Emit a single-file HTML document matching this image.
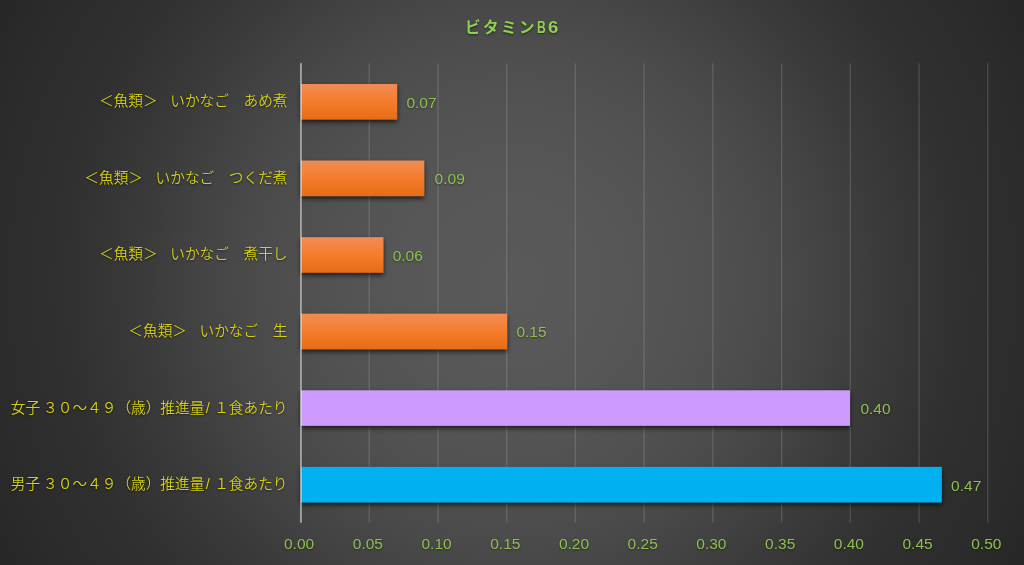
<!DOCTYPE html>
<html lang="ja">
<head>
<meta charset="utf-8">
<title>ビタミンB6</title>
<style>
html,body{margin:0;padding:0;}
body{width:1024px;height:565px;overflow:hidden;position:relative;
 background:#3f3f3f radial-gradient(circle 600px at 512px 282.5px,rgb(89,89,89) 0.0%,rgb(89,89,89) 2.5%,rgb(89,89,89) 5.0%,rgb(88,88,88) 7.5%,rgb(88,88,88) 10.0%,rgb(88,88,88) 12.5%,rgb(87,87,87) 15.0%,rgb(87,87,87) 17.5%,rgb(86,86,86) 20.0%,rgb(85,85,85) 22.5%,rgb(84,84,84) 25.0%,rgb(83,83,83) 27.5%,rgb(82,82,82) 30.0%,rgb(81,81,81) 32.5%,rgb(80,80,80) 35.0%,rgb(78,78,78) 37.5%,rgb(77,77,77) 40.0%,rgb(75,75,75) 42.5%,rgb(73,73,73) 45.0%,rgb(71,71,71) 47.5%,rgb(69,69,69) 50.0%,rgb(67,67,67) 52.5%,rgb(65,65,65) 55.0%,rgb(62,62,62) 57.5%,rgb(60,60,60) 60.0%,rgb(58,58,58) 62.5%,rgb(56,56,56) 65.0%,rgb(54,54,54) 67.5%,rgb(52,52,52) 70.0%,rgb(50,50,50) 72.5%,rgb(48,48,48) 75.0%,rgb(47,47,47) 77.5%,rgb(46,46,46) 80.0%,rgb(45,45,45) 82.5%,rgb(45,45,45) 85.0%,rgb(44,44,44) 87.5%,rgb(42,42,42) 90.0%,rgb(41,41,41) 92.5%,rgb(40,40,40) 95.0%,rgb(38,38,38) 97.5%,rgb(38,38,38) 100.0%);
 background:#3f3f3f radial-gradient(circle 600px at 512px 282.5px,color(srgb 0.3490 0.3490 0.3490) 0.0%,color(srgb 0.3486 0.3486 0.3486) 2.5%,color(srgb 0.3479 0.3479 0.3479) 5.0%,color(srgb 0.3470 0.3470 0.3470) 7.5%,color(srgb 0.3459 0.3459 0.3459) 10.0%,color(srgb 0.3445 0.3445 0.3445) 12.5%,color(srgb 0.3426 0.3426 0.3426) 15.0%,color(srgb 0.3404 0.3404 0.3404) 17.5%,color(srgb 0.3374 0.3374 0.3374) 20.0%,color(srgb 0.3338 0.3338 0.3338) 22.5%,color(srgb 0.3301 0.3301 0.3301) 25.0%,color(srgb 0.3263 0.3263 0.3263) 27.5%,color(srgb 0.3222 0.3222 0.3222) 30.0%,color(srgb 0.3177 0.3177 0.3177) 32.5%,color(srgb 0.3127 0.3127 0.3127) 35.0%,color(srgb 0.3067 0.3067 0.3067) 37.5%,color(srgb 0.3008 0.3008 0.3008) 40.0%,color(srgb 0.2947 0.2947 0.2947) 42.5%,color(srgb 0.2877 0.2877 0.2877) 45.0%,color(srgb 0.2793 0.2793 0.2793) 47.5%,color(srgb 0.2709 0.2709 0.2709) 50.0%,color(srgb 0.2625 0.2625 0.2625) 52.5%,color(srgb 0.2536 0.2536 0.2536) 55.0%,color(srgb 0.2443 0.2443 0.2443) 57.5%,color(srgb 0.2345 0.2345 0.2345) 60.0%,color(srgb 0.2262 0.2262 0.2262) 62.5%,color(srgb 0.2187 0.2187 0.2187) 65.0%,color(srgb 0.2112 0.2112 0.2112) 67.5%,color(srgb 0.2035 0.2035 0.2035) 70.0%,color(srgb 0.1961 0.1961 0.1961) 72.5%,color(srgb 0.1891 0.1891 0.1891) 75.0%,color(srgb 0.1847 0.1847 0.1847) 77.5%,color(srgb 0.1812 0.1812 0.1812) 80.0%,color(srgb 0.1781 0.1781 0.1781) 82.5%,color(srgb 0.1750 0.1750 0.1750) 85.0%,color(srgb 0.1710 0.1710 0.1710) 87.5%,color(srgb 0.1663 0.1663 0.1663) 90.0%,color(srgb 0.1613 0.1613 0.1613) 92.5%,color(srgb 0.1559 0.1559 0.1559) 95.0%,color(srgb 0.1510 0.1510 0.1510) 97.5%,color(srgb 0.1471 0.1471 0.1471) 100.0%);
 font-family:"Liberation Sans","Noto Sans CJK JP",sans-serif;}
.gl{position:absolute;left:0;top:0;}
.cat{position:absolute;right:736.5px;white-space:nowrap;color:#d3cf16;font-weight:350;font-size:14.67px;line-height:20px;height:20px;
 font-family:"Liberation Sans","Noto Sans CJK JP",sans-serif;text-shadow:0 1px 2px rgba(0,0,0,0.5);}
.s{margin-right:-2.1px;}
.g{margin-left:3px;}
.sl{margin:0 4.3px 0 1.5px;}
.val{position:absolute;white-space:nowrap;color:#8cc04f;font-size:15.5px;line-height:20px;height:20px;text-shadow:0 1px 2px rgba(0,0,0,0.4);}
.tick{position:absolute;top:534.4px;width:60px;text-align:center;white-space:nowrap;color:#8cc04f;font-size:15.5px;line-height:20px;text-shadow:0 1px 2px rgba(0,0,0,0.4);}
.title{position:absolute;left:0;width:1024px;top:15.6px;text-align:center;color:#92d050;font-weight:bold;font-size:15.6px;line-height:24px;letter-spacing:2.35px;
 text-shadow:0 1px 2px rgba(0,0,0,0.5);}
.tb{display:inline-block;transform:scaleX(0.78);transform-origin:0 50%;margin-right:-2.4px;margin-left:-0.2px;}
.t6{display:inline-block;transform:scaleX(1.18);transform-origin:0 50%;}
</style>
</head>
<body>
<div class="title">ビタミン<span class="tb">B</span><span class="t6">6</span></div>
<svg class="gl" width="1024" height="565" viewBox="0 0 1024 565">
<defs>
<linearGradient id="og" x1="0" y1="0" x2="0" y2="1">
<stop offset="0" stop-color="#f08c55"/><stop offset="0.5" stop-color="#f57c2b"/><stop offset="1" stop-color="#e66c18"/>
</linearGradient>
<filter id="sh" x="-20" y="-20" width="1064" height="100" filterUnits="userSpaceOnUse" primitiveUnits="userSpaceOnUse">
<feDropShadow dx="0" dy="2.4" stdDeviation="2.6" flood-color="#000" flood-opacity="0.7"/>
</filter>
</defs>
<line x1="369.25" y1="63.3" x2="369.25" y2="522.7" stroke="#fff" stroke-opacity="0.14" stroke-width="1.33"/>
<line x1="437.97" y1="63.3" x2="437.97" y2="522.7" stroke="#fff" stroke-opacity="0.14" stroke-width="1.33"/>
<line x1="506.69" y1="63.3" x2="506.69" y2="522.7" stroke="#fff" stroke-opacity="0.14" stroke-width="1.33"/>
<line x1="575.41" y1="63.3" x2="575.41" y2="522.7" stroke="#fff" stroke-opacity="0.14" stroke-width="1.33"/>
<line x1="644.13" y1="63.3" x2="644.13" y2="522.7" stroke="#fff" stroke-opacity="0.14" stroke-width="1.33"/>
<line x1="712.85" y1="63.3" x2="712.85" y2="522.7" stroke="#fff" stroke-opacity="0.14" stroke-width="1.33"/>
<line x1="781.57" y1="63.3" x2="781.57" y2="522.7" stroke="#fff" stroke-opacity="0.14" stroke-width="1.33"/>
<line x1="850.29" y1="63.3" x2="850.29" y2="522.7" stroke="#fff" stroke-opacity="0.14" stroke-width="1.33"/>
<line x1="919.01" y1="63.3" x2="919.01" y2="522.7" stroke="#fff" stroke-opacity="0.14" stroke-width="1.33"/>
<line x1="987.73" y1="63.3" x2="987.73" y2="522.7" stroke="#fff" stroke-opacity="0.14" stroke-width="1.33"/>
<g transform="translate(0 84.03)"><rect x="301.0" y="0" width="96.1" height="35.5" fill="url(#og)" filter="url(#sh)"/></g>
<g transform="translate(0 160.60)"><rect x="301.0" y="0" width="123.2" height="35.5" fill="url(#og)" filter="url(#sh)"/></g>
<g transform="translate(0 237.17)"><rect x="301.0" y="0" width="82.4" height="35.5" fill="url(#og)" filter="url(#sh)"/></g>
<g transform="translate(0 313.73)"><rect x="301.0" y="0" width="206.1" height="35.5" fill="url(#og)" filter="url(#sh)"/></g>
<g transform="translate(0 390.30)"><rect x="301.0" y="0" width="549.0" height="35.5" fill="#cc99ff" filter="url(#sh)"/></g>
<g transform="translate(0 466.87)"><rect x="301.0" y="0" width="640.8" height="35.5" fill="#00b0f0" filter="url(#sh)"/></g>
<rect x="300" y="63.2" width="1" height="459.6" fill="#a4a4a4"/>
<rect x="301" y="63.2" width="1" height="459.6" fill="#fff" fill-opacity="0.42"/>
</svg>
<div class="cat" style="top:91.3px">＜魚類＞<span class="s">　</span>いかなご　あめ煮</div>
<div class="val" style="top:92.8px;left:406.4px">0.07</div>
<div class="cat" style="top:167.8px">＜魚類＞<span class="s">　</span>いかなご　つくだ煮</div>
<div class="val" style="top:169.3px;left:434.6px">0.09</div>
<div class="cat" style="top:244.4px">＜魚類＞<span class="s">　</span>いかなご　煮干し</div>
<div class="val" style="top:245.9px;left:392.7px">0.06</div>
<div class="cat" style="top:321.0px">＜魚類＞<span class="s">　</span>いかなご　生</div>
<div class="val" style="top:321.5px;left:516.4px">0.15</div>
<div class="cat" style="top:397.5px">女子<span class="g">３</span>０～４９（歳）推進量<span class="sl">/</span>１食あたり</div>
<div class="val" style="top:399.0px;left:860.4px">0.40</div>
<div class="cat" style="top:474.1px">男子<span class="g">３</span>０～４９（歳）推進量<span class="sl">/</span>１食あたり</div>
<div class="val" style="top:475.6px;left:951.1px">0.47</div>
<div class="tick" style="left:269.1px">0.00</div>
<div class="tick" style="left:337.9px">0.05</div>
<div class="tick" style="left:406.6px">0.10</div>
<div class="tick" style="left:475.3px">0.15</div>
<div class="tick" style="left:544.0px">0.20</div>
<div class="tick" style="left:612.7px">0.25</div>
<div class="tick" style="left:681.4px">0.30</div>
<div class="tick" style="left:750.2px">0.35</div>
<div class="tick" style="left:818.9px">0.40</div>
<div class="tick" style="left:887.6px">0.45</div>
<div class="tick" style="left:956.3px">0.50</div>
</body>
</html>
